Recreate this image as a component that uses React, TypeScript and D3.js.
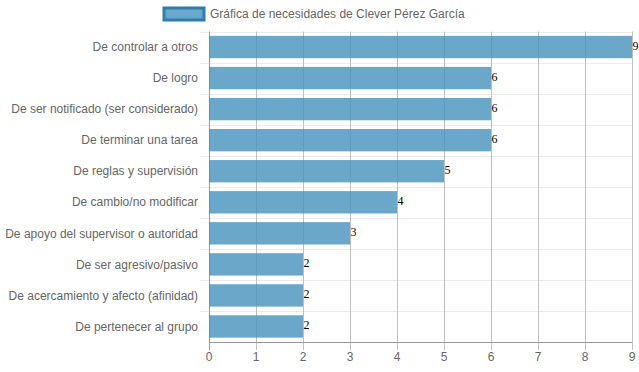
import React from 'react';
import * as d3 from 'd3';

const categories = [
  'De controlar a otros',
  'De logro',
  'De ser notificado (ser considerado)',
  'De terminar una tarea',
  'De reglas y supervisión',
  'De cambio/no modificar',
  'De apoyo del supervisor o autoridad',
  'De ser agresivo/pasivo',
  'De acercamiento y afecto (afinidad)',
  'De pertenecer al grupo',
];
const values = [9, 6, 6, 6, 5, 4, 3, 2, 2, 2];
const xTicks = [0, 1, 2, 3, 4, 5, 6, 7, 8, 9];
const legendLabel = 'Gráfica de necesidades de Clever Pérez García';

const W = 639;
const H = 372;
const left = 209;
const right = 632;
const top = 31.5;
const bottom = 342;
const font = '"Liberation Sans", Arial, Helvetica, sans-serif';

export default function App() {
  const x = d3.scaleLinear().domain([0, 9]).range([left, right]);
  const y = d3.scaleBand<string>().domain(categories).range([top, bottom]);
  const barH = y.bandwidth() * 0.72;

  return (
    <svg width={W} height={H} style={{ position: 'absolute', left: 0, top: 0 }}>
      {/* horizontal grid between categories */}
      {categories.map((c, i) => (
        <line key={'h' + i} x1={left - 9} x2={right} y1={Math.round(y(c)!) + 0.5} y2={Math.round(y(c)!) + 0.5}
          stroke="#ebebeb" strokeWidth={1} />
      ))}
      {/* vertical grid */}
      {xTicks.map((t) => (
        <line key={'v' + t} x1={Math.round(x(t)) + 0.5} x2={Math.round(x(t)) + 0.5} y1={top} y2={bottom + 8}
          stroke={t === 0 ? '#999' : '#c0c0c0'} strokeWidth={1} />
      ))}
      <line x1={left} x2={right} y1={bottom + 0.5} y2={bottom + 0.5} stroke="#999" />

      {/* bars */}
      {categories.map((c, i) => (
        <rect key={'b' + i} x={x(0)} y={y(c)! + (y.bandwidth() - barH) / 2}
          width={x(values[i]) - x(0)} height={barH} fill="rgba(70,145,186,0.8)" />
      ))}

      {/* value labels */}
      {categories.map((c, i) => (
        <text key={'l' + i} x={x(values[i]) + 0.5} y={y(c)! + y.bandwidth() / 2 + 2.5}
          fontSize={12} fontFamily='"Liberation Serif", "Times New Roman", serif' fill="#000">
          {values[i]}
        </text>
      ))}

      {/* y labels */}
      {categories.map((c, i) => (
        <text key={'y' + i} x={left - 11} y={y(c)! + y.bandwidth() / 2} dy="0.35em" textAnchor="end"
          fontSize={12} fontFamily={font} fill="#666">
          {c}
        </text>
      ))}

      {/* x labels */}
      {xTicks.map((t) => (
        <text key={'x' + t} x={x(t)} y={bottom + 15} dy="0.35em" textAnchor="middle"
          fontSize={12} fontFamily={font} fill="#666">
          {t}
        </text>
      ))}

      {/* legend */}
      <rect x={164} y={8} width={40} height={12} fill="rgba(70,145,186,0.8)" stroke="#2f7cad" strokeWidth={3} />
      <text x={210} y={14} dy="0.35em" fontSize={12} fontFamily={font} fill="#666">{legendLabel}</text>
    </svg>
  );
}
